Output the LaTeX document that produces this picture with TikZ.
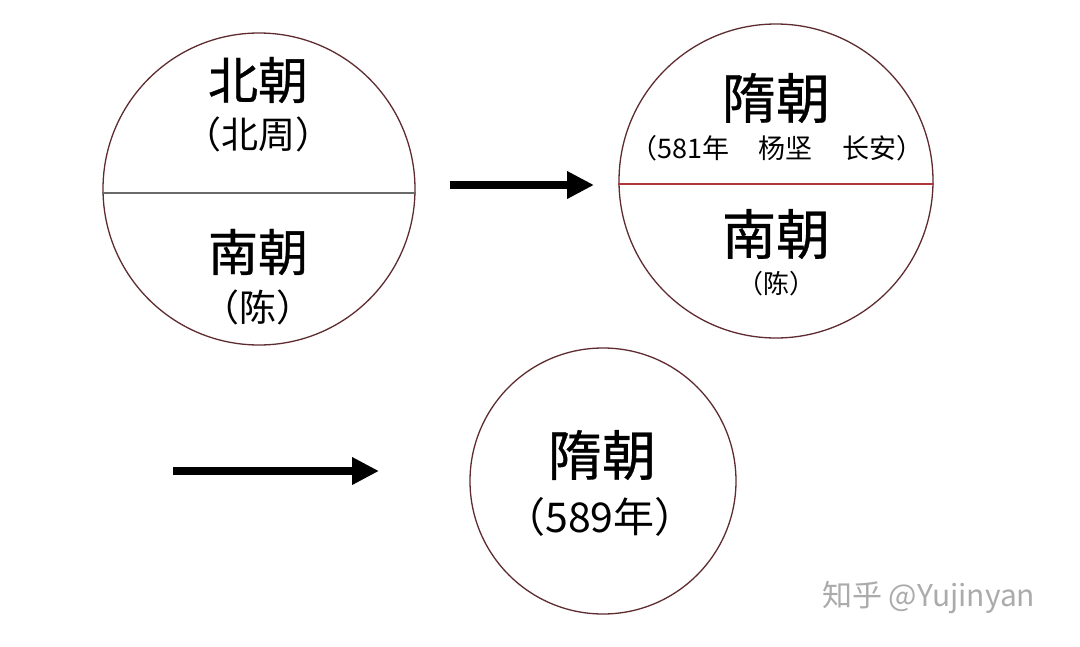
\documentclass[tikz,border=0pt]{standalone}
\usepackage{fontspec}
\setmainfont{Noto Sans CJK SC}
\newfontfamily\heavycjk[FakeBold=0.7]{Noto Sans CJK SC}
\usetikzlibrary{arrows.meta}
\definecolor{ringc}{HTML}{5E2C30}
\definecolor{redline}{HTML}{B0383C}
\definecolor{grayline}{HTML}{6A6A6A}
\definecolor{wm}{HTML}{ABABAB}
\tikzset{
  ring/.style={circle, draw=ringc, line width=1.3pt, inner sep=0pt},
  big/.style={inner sep=0pt, font=\heavycjk\fontsize{50}{50}\selectfont},
  bigger/.style={inner sep=0pt, font=\heavycjk\fontsize{54}{54}\selectfont},
  mid/.style={inner sep=0pt, font=\fontsize{37}{37}\selectfont},
  small/.style={inner sep=0pt, font=\fontsize{26}{26}\selectfont},
  fatarrow/.style={line width=8pt, -{Triangle[length=27pt,width=26pt]}},
}
\begin{document}
\begin{tikzpicture}[x=1pt,y=-1pt]
\fill[white] (0,0) rectangle (1080,646);
\useasboundingbox (0,0) rectangle (1080,646);
% left circle
\node[ring, minimum size=312pt] (L) at (259,189) {};
\draw[grayline, line width=1.3pt] (L.west |- 0,193) coordinate (Lw) -- (L.east |- 0,193) coordinate (Le);
\node[big] (Ln) at (258,80) {北朝};
\node[mid] (Lnz) at (258,134) {（北周）};
\node[big] (Ls) at (258,252) {南朝};
\node[mid] (Lsz) at (258,307) {（陈）};
% right circle
\node[ring, minimum size=314pt] (R) at (776,181) {};
\draw[redline, line width=1.5pt] (R.west |- 0,184) coordinate (Rw) -- (R.east |- 0,184) coordinate (Re);
\node[bigger] (Rn) at (776,98) {隋朝};
\node[small, font=\fontsize{27}{27}\selectfont] (Rnz) at (777,148) {（581年\hspace{1.1em}杨坚\hspace{1.1em}长安）};
\node[bigger] (Rs) at (776,234) {南朝};
\node[small] (Rsz) at (776,284) {（陈）};
% bottom circle
\node[ring, minimum size=266pt] (B) at (603,481) {};
\node[bigger] (Bn) at (602,455) {隋朝};
\node[mid, font=\fontsize{41}{41}\selectfont] (Bnz) at (600,517) {（589年）};
% arrows
\coordinate (a1s) at (450,185);
\coordinate (a1e) at (594,185);
\coordinate (a2s) at (173,471);
\coordinate (a2e) at (379,471);
\draw[fatarrow] (a1s) -- (a1e);
\draw[fatarrow] (a2s) -- (a2e);
% watermark
\node[inner sep=0pt, anchor=west, text=wm, font=\fontsize{30}{30}\selectfont] (wmk) at (822,598) {知乎 @Yujinyan};
\end{tikzpicture}
\end{document}
